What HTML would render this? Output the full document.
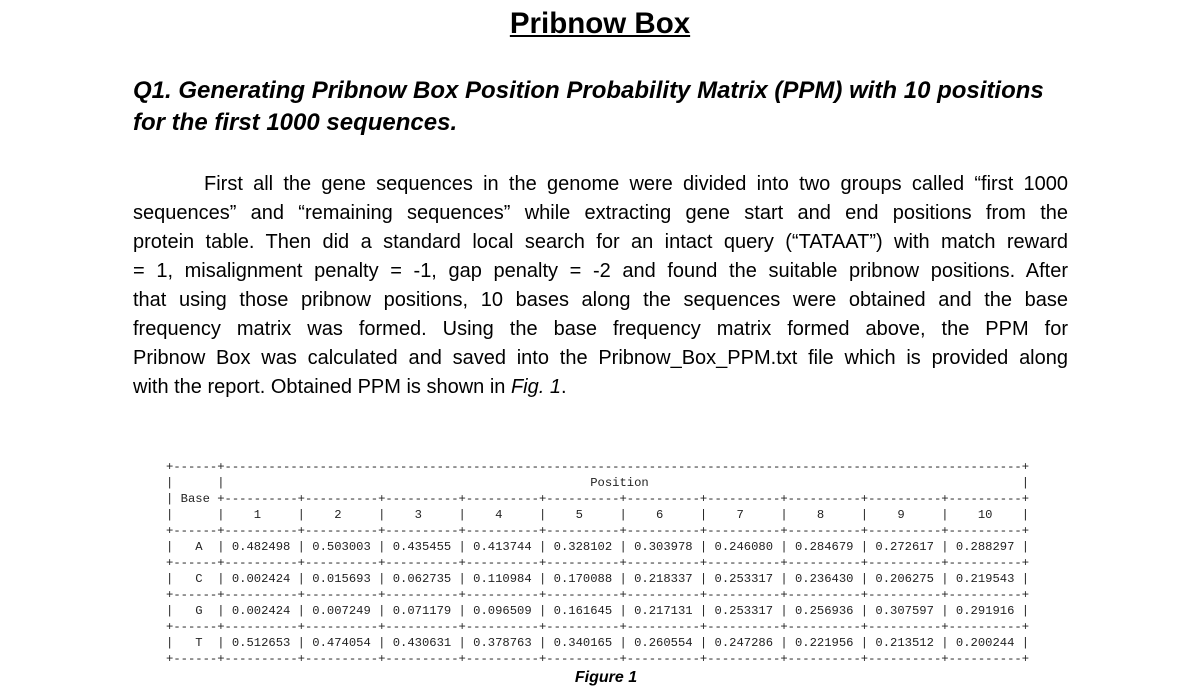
<!DOCTYPE html>
<html><head><meta charset="utf-8"><style>
body{margin:0;width:1200px;height:695px;background:#fff;position:relative;font-family:"Liberation Sans",Arial,sans-serif;color:#000;overflow:hidden}
.abs{position:absolute}
#title{left:0;width:1200px;top:7px;text-align:center;font-weight:bold;font-size:29.5px;text-decoration:underline;}
#q1{left:133px;top:75px;font-weight:bold;font-style:italic;font-size:24px;line-height:32px}
#para{left:133px;width:935px;top:170px;font-size:20px;line-height:29px}
#para div{text-align:justify;text-align-last:justify;white-space:nowrap;overflow:visible}
#para div.l{text-align-last:left}
#tbl{left:166px;top:459px;margin:0;font-family:"Liberation Mono",monospace;font-size:12.2px;line-height:16px;color:#222}
#cap{left:0;width:1212px;text-align:center;top:669px;font-weight:bold;font-style:italic;font-size:16px}
</style></head><body>
<div id="title" class="abs">Pribnow Box</div>
<div id="q1" class="abs">Q1. Generating Pribnow Box Position Probability Matrix (PPM) with 10 positions<br>for the first 1000 sequences.</div>
<div id="para" class="abs">
<div style="padding-left:71px">First all the gene sequences in the genome were divided into two groups called “first 1000</div>
<div>sequences” and “remaining sequences” while extracting gene start and end positions from the</div>
<div>protein table. Then did a standard local search for an intact query (“TATAAT”) with match reward</div>
<div>= 1, misalignment penalty = -1, gap penalty = -2 and found the suitable pribnow positions. After</div>
<div>that using those pribnow positions, 10 bases along the sequences were obtained and the base</div>
<div>frequency matrix was formed. Using the base frequency matrix formed above, the PPM for</div>
<div>Pribnow Box was calculated and saved into the Pribnow_Box_PPM.txt file which is provided along</div>
<div class="l">with the report. Obtained PPM is shown in <i>Fig. 1</i>.</div>
</div>
<pre id="tbl" class="abs"></pre>
<div id="cap" class="abs">Figure 1</div>
<script>
const bases=["A","C","G","T"];
const rowA=["0.482498","0.503003","0.435455","0.413744","0.328102","0.303978","0.246080","0.284679","0.272617","0.288297"];
const rowC=["0.002424","0.015693","0.062735","0.110984","0.170088","0.218337","0.253317","0.236430","0.206275","0.219543"];
const rowG=["0.002424","0.007249","0.071179","0.096509","0.161645","0.217131","0.253317","0.256936","0.307597","0.291916"];
const rowT=["0.512653","0.474054","0.430631","0.378763","0.340165","0.260554","0.247286","0.221956","0.213512","0.200244"];
const rows=[rowA,rowC,rowG,rowT];
const seg="+"+"-".repeat(10);
const sep="+------"+seg.repeat(10)+"+";
const L=[];
L.push("+------+"+"-".repeat(109)+"+");
const inner=109;const lab="Position";
const pad=Math.floor((inner-lab.length)/2);
L.push("|      |"+" ".repeat(pad)+lab+" ".repeat(inner-pad-lab.length)+"|");
L.push("| Base "+seg.repeat(10)+"+");
let h="|      ";
for(let i=1;i<=10;i++){const s=String(i);const p=Math.floor((10-s.length)/2);h+="|"+" ".repeat(p)+s+" ".repeat(10-p-s.length);}
L.push(h+"|");
L.push(sep);
rows.forEach((r,k)=>{L.push("|   "+bases[k]+"  | "+r.join(" | ")+" |");L.push(sep);});
document.getElementById("tbl").textContent=L.join("\n");
</script>
</body></html>
